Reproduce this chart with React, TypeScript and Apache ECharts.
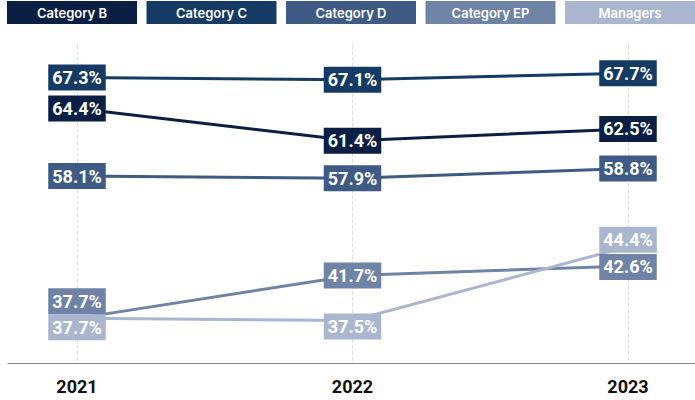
import React, { useEffect, useRef } from "react";
import * as echarts from "echarts";

const years = ["2021", "2022", "2023"];
const seriesNames = ["Category B", "Category C", "Category D", "Category EP", "Managers"];
const categoryB = [64.4, 61.4, 62.5];
const categoryC = [67.3, 67.1, 67.7];
const categoryD = [58.1, 57.9, 58.8];
const categoryEP = [37.7, 41.7, 42.6];
const managers = [37.7, 37.5, 44.4];

const colors = ["#0b1e44", "#153a63", "#3f5a85", "#6f83a6", "#a9b6cd"];
// label nudges for labels that would overlap each other: [seriesIndex, pointIndex, dy]
const labelNudges: [number, number, number][] = [
  [3, 0, -17],
  [4, 0, 9],
  [4, 1, 6],
  [4, 2, -7],
  [3, 2, 1],
];

export default function App() {
  const ref = useRef<HTMLDivElement>(null);
  useEffect(() => {
    document.body.style.margin = "0";
    if (!ref.current) return;
    const chart = echarts.init(ref.current, undefined, { renderer: "svg" });
    const allValues = [categoryB, categoryC, categoryD, categoryEP, managers];
    const rich: Record<string, any> = {};
    seriesNames.forEach((n, i) => {
      rich["k" + i] = {
        backgroundColor: colors[i],
        color: "#ffffff",
        width: 130,
        height: 23,
        lineHeight: 23,
        align: "center",
        fontSize: 13,
        fontWeight: 600,
        fontFamily: "Inter",
      };
    });
    const series = allValues.map((vals, si) => ({
      name: seriesNames[si],
      type: "line",
      xAxisIndex: 0,
      yAxisIndex: 0,
      symbol: "circle",
      symbolSize: 1,
      lineStyle: { color: colors[si], width: 3 },
      itemStyle: { color: colors[si] },
      data: vals.map((v, pi) => {
        const nudge = labelNudges.find((n) => n[0] === si && n[1] === pi);
        return nudge ? { value: v, label: { offset: [0, nudge[2]] } } : v;
      }),
      label: {
        show: true,
        position: "inside",
        formatter: (p: any) => Number(p.value).toFixed(1) + "%",
        color: "#ffffff",
        fontFamily: "Roboto",
        fontWeight: "bold",
        fontSize: 18,
        lineHeight: 18,
        backgroundColor: colors[si],
        padding: [4, 4, 4, 4],
      },
      emphasis: { disabled: true },
    }));
    chart.setOption({
      animation: false,
      legend: {
        top: 1,
        left: 2,
        width: 740,
        padding: 0,
        icon: "rect",
        itemWidth: 0,
        itemHeight: 0,
        itemGap: 4.5,
        selectedMode: false,
        data: seriesNames,
        formatter: (name: string) => `{k${seriesNames.indexOf(name)}|${name}}`,
        textStyle: { rich },
      },
      grid: [
        { left: 77, right: 67, top: 45, bottom: 37 },
        { left: 8, right: 0, top: 45, bottom: 37 },
      ],
      xAxis: [
        {
          type: "category",
          gridIndex: 0,
          data: years,
          boundaryGap: false,
          axisLine: { show: false },
          axisTick: { show: false },
          axisLabel: {
            color: "#111111",
            fontFamily: "Roboto",
            fontWeight: "bold",
            fontSize: 18,
            margin: 14,
          },
          splitLine: { show: true, lineStyle: { type: "dashed", color: "#dddddd", width: 1 } },
        },
        {
          type: "value",
          gridIndex: 1,
          min: 0,
          max: 1,
          axisLine: { show: true, lineStyle: { color: "#8a8a8a", width: 1.2 } },
          axisTick: { show: false },
          axisLabel: { show: false },
          splitLine: { show: false },
        },
      ],
      yAxis: [
        {
          type: "value",
          gridIndex: 0,
          min: 33.53,
          max: 70.34,
          breaks: [{ start: 46, end: 56, gap: "9.75%" }],
          breakArea: { show: false },
          axisLine: { show: false },
          axisTick: { show: false },
          axisLabel: { show: false },
          splitLine: { show: false },
        },
        { type: "value", gridIndex: 1, show: false, min: 0, max: 1 },
      ],
      series,
    });
    return () => chart.dispose();
  }, []);
  return <div ref={ref} style={{ width: 695, height: 400 }} />;
}
